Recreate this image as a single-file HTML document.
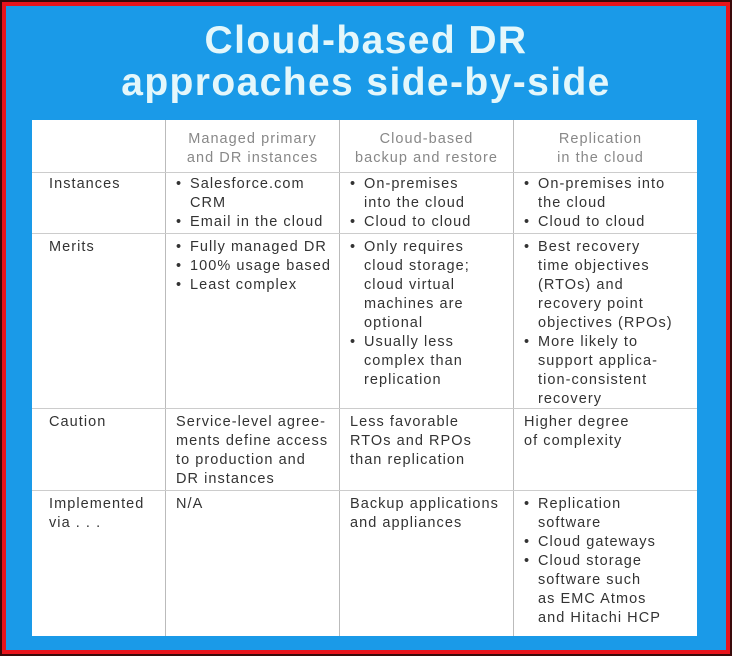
<!DOCTYPE html>
<html><head><style>
body{margin:0;width:732px;height:656px;background:#3a0a0a;overflow:hidden;font-family:"Liberation Sans",sans-serif}
.red{position:absolute;left:2px;top:2px;width:728px;height:652px;background:#e8141c}
.blue{position:absolute;left:6px;top:6px;width:720px;height:644px;background:#1a9ae8}
.title{position:absolute;left:0;width:732px;text-align:center;color:#e4f7fb;font-weight:bold;font-size:39px;letter-spacing:1.4px}
.tbl{position:absolute;left:32px;top:120px;width:665px;height:516px;background:#fff}
.v{position:absolute;top:120px;height:516px;width:1px;background:#bbb}
.h{position:absolute;left:32px;width:665px;height:1px;background:#ccc}
.t{position:absolute;font-size:14.5px;line-height:19px;color:#333;letter-spacing:1.05px;white-space:pre}
.t div{position:relative;padding-left:14px}
.t div:before{content:"•";position:absolute;left:0;top:0}
.hd{color:#888;text-align:center}
</style></head><body>
<div class="red"></div><div class="blue"></div>
<div class="title" style="top:19px">Cloud-based DR</div>
<div class="title" style="top:61px">approaches side-by-side</div>
<div class="tbl"></div>
<div class="v" style="left:165px"></div><div class="v" style="left:339px"></div><div class="v" style="left:513px"></div>
<div class="h" style="top:172px"></div><div class="h" style="top:233px"></div><div class="h" style="top:408px"></div><div class="h" style="top:490px"></div>

<div class="t hd" style="left:166px;width:173px;top:130px">Managed primary
and DR instances</div>
<div class="t hd" style="left:340px;width:173px;top:130px">Cloud-based
backup and restore</div>
<div class="t hd" style="left:514px;width:173px;top:130px">Replication
in the cloud</div>

<div class="t" style="left:49px;top:175px">Instances</div>
<div class="t" style="left:49px;top:238px">Merits</div>
<div class="t" style="left:49px;top:413px">Caution</div>
<div class="t" style="left:49px;top:495px">Implemented
via . . .</div>

<div class="t" style="left:176px;top:175px"><div>Salesforce.com
CRM</div><div>Email in the cloud</div></div>
<div class="t" style="left:350px;top:175px"><div>On-premises
into the cloud</div><div>Cloud to cloud</div></div>
<div class="t" style="left:524px;top:175px"><div>On-premises into
the cloud</div><div>Cloud to cloud</div></div>

<div class="t" style="left:176px;top:238px"><div>Fully managed DR</div><div>100% usage based</div><div>Least complex</div></div>
<div class="t" style="left:350px;top:238px"><div>Only requires
cloud storage;
cloud virtual
machines are
optional</div><div>Usually less
complex than
replication</div></div>
<div class="t" style="left:524px;top:238px"><div>Best recovery
time objectives
(RTOs) and
recovery point
objectives (RPOs)</div><div>More likely to
support applica-
tion-consistent
recovery</div></div>

<div class="t" style="left:176px;top:413px">Service-level agree-
ments define access
to production and
DR instances</div>
<div class="t" style="left:350px;top:413px">Less favorable
RTOs and RPOs
than replication</div>
<div class="t" style="left:524px;top:413px">Higher degree
of complexity</div>

<div class="t" style="left:176px;top:495px">N/A</div>
<div class="t" style="left:350px;top:495px">Backup applications
and appliances</div>
<div class="t" style="left:524px;top:495px"><div>Replication
software</div><div>Cloud gateways</div><div>Cloud storage
software such
as EMC Atmos
and Hitachi HCP</div></div>
</body></html>
